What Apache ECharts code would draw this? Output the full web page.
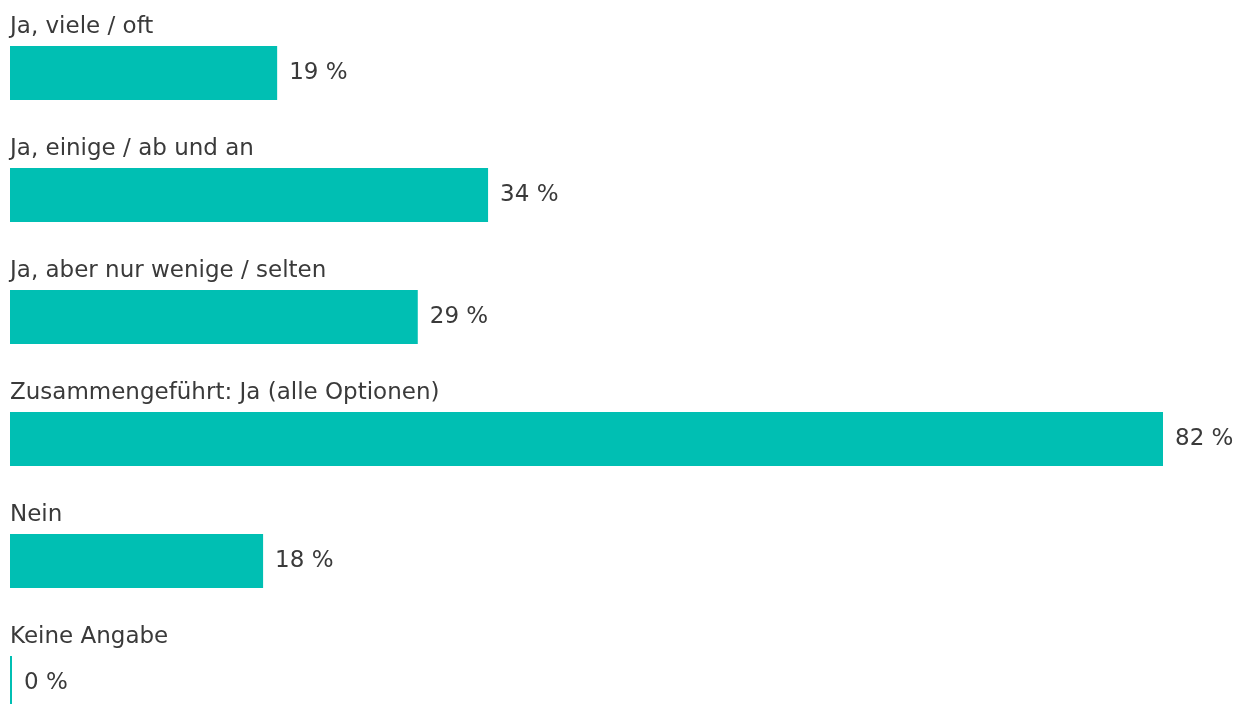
<!DOCTYPE html>
<html>
<head>
<meta charset="utf-8">
<script src="https://cdn.jsdelivr.net/npm/echarts@6/dist/echarts.min.js"></script>
<style>
  html, body { margin: 0; padding: 0; background: #fff; }
  #chart { width: 1240px; height: 704px; }
</style>
</head>
<body>
<div id="chart"></div>
<script>
// Antworten und Anteile in Prozent
const categories = [
  'Ja, viele / oft',
  'Ja, einige / ab und an',
  'Ja, aber nur wenige / selten',
  'Zusammengeführt: Ja (alle Optionen)',
  'Nein',
  'Keine Angabe'
];
const values = [19, 34, 29, 82, 18, 0];

const barColor = '#00BFB3';
const textColor = '#3a3a3a';
const fontFamily = '"DejaVu Sans", sans-serif';
const fontSize = 23;

const chart = echarts.init(document.getElementById('chart'), null, { renderer: 'canvas' });

chart.setOption({
  animation: false,
  grid: {
    left: 10, top: 12, width: 1153, height: 732,
    outerBoundsMode: 'none', containLabel: false
  },
  xAxis: { type: 'value', min: 0, max: 82, show: false },
  yAxis: { type: 'category', data: categories, inverse: true, show: false },
  series: [
    {
      // Balken mit Prozentwert rechts daneben
      type: 'bar',
      data: values,
      barWidth: 54,
      barMinHeight: 2,
      itemStyle: { color: barColor },
      label: {
        show: true,
        position: 'right',
        distance: 12,
        formatter: p => p.value + ' %',
        color: textColor,
        fontSize: fontSize,
        fontFamily: fontFamily
      },
      silent: true
    },
    {
      // Antworttext über jedem Balken
      type: 'bar',
      data: values,
      barWidth: 54,
      barGap: '-100%',
      itemStyle: { color: 'rgba(0,0,0,0)' },
      label: {
        show: true,
        position: [0, -7],
        align: 'left',
        verticalAlign: 'bottom',
        formatter: p => categories[p.dataIndex],
        color: textColor,
        fontSize: fontSize,
        fontFamily: fontFamily
      },
      silent: true
    }
  ]
});
</script>
</body>
</html>
